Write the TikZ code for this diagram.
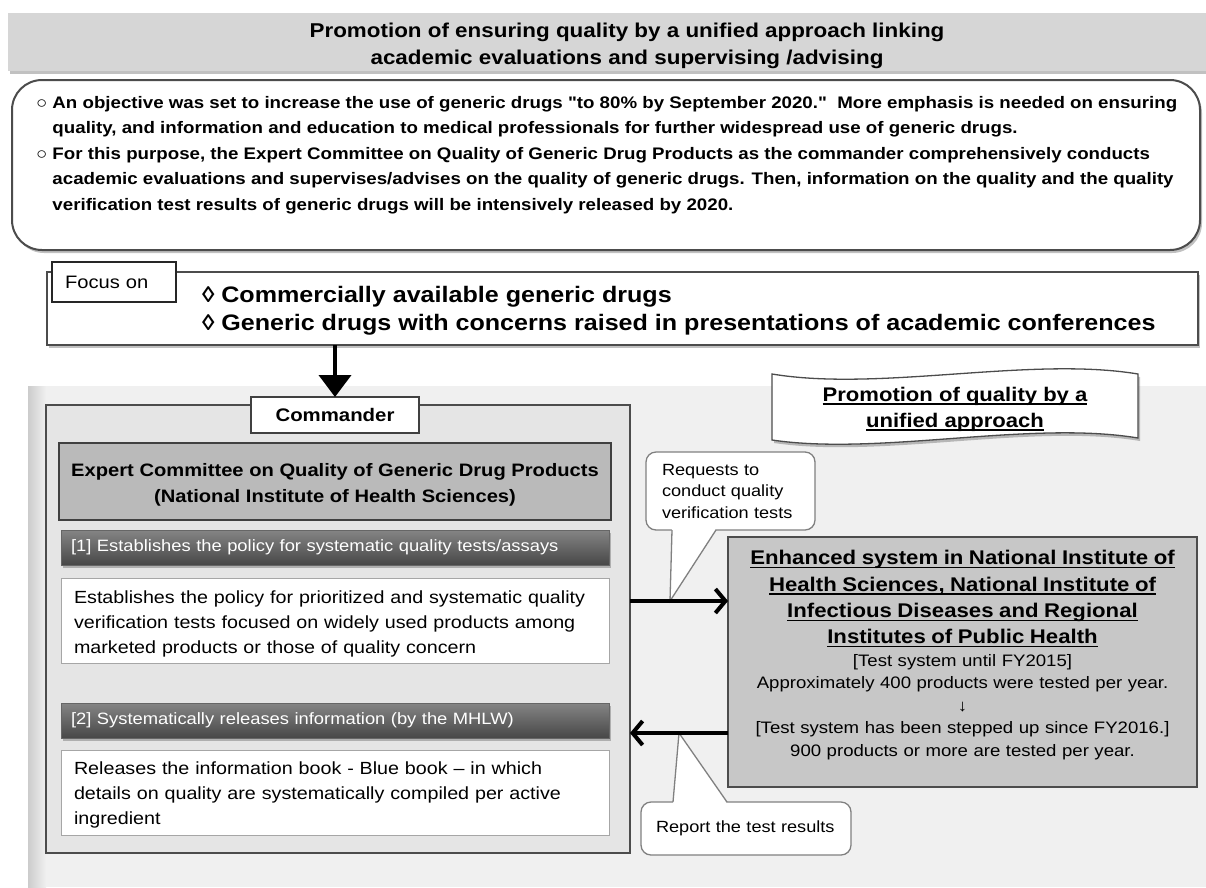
\documentclass[tikz,border=0pt]{standalone}
\usepackage{fontspec}
\setmainfont{Liberation Sans}[FakeStretch=1.12, Ligatures=TeXOff]
\usetikzlibrary{positioning, arrows.meta, shadows}

\newcommand{\fsz}[2]{\fontsize{#1}{#2}\selectfont}
\newcommand{\ulin}[1]{\leavevmode\setbox0\hbox{#1}\rlap{\rule[-3.5pt]{\wd0}{1.4pt}}\box0}

\begin{document}
\begin{tikzpicture}[x=1pt, y=-1pt,
	every node/.style={inner sep=0pt, outer sep=0pt},
	softshadow/.style={drop shadow={shadow xshift=2pt, shadow yshift=-3pt, opacity=.35, fill=black!70}},
	frame/.style={draw=black!70, line width=1.5pt, fill=white},
	bar/.style={top color=black!48, bottom color=black!72, draw=black!60, line width=.6pt, text=white, minimum width=548pt, minimum height=35pt, text width=528pt, inner xsep=10pt, align=left, font=\fsz{16.4}{20}, softshadow},
	textbox/.style={fill=white, draw=black!35, line width=1pt, minimum width=548pt, minimum height=85pt, text width=522pt, inner xsep=13pt, align=left, font=\fsz{17.6}{25}},
	callout/.style={draw=black!50, line width=1.3pt, fill=white, rounded corners=10pt, align=left, font=\fsz{16.2}{21.5}},
	callline/.style={draw=black!50, line width=1.3pt},
	fatarrow/.style={line width=4pt, -{Straight Barb[length=10pt, width=24pt]}},
	downarrow/.style={line width=4pt, -{Triangle[length=22pt, width=32pt]}}
]
	\useasboundingbox (0,0) rectangle (1206,887);
	\fill[black!6] (28,386) rectangle (1206,887);
	\shade[left color=black!20, right color=black!6] (28,386) rectangle (46,887);

	\node[fill=black!16, minimum width=1238pt, minimum height=58pt, align=center, font=\fsz{20}{27}\bfseries, softshadow] (title) at (627,42)
		{\rule{0pt}{22pt}Promotion of ensuring quality by a unified approach linking\\academic evaluations and supervising /advising};

	\node[frame, rounded corners=30pt, line width=2pt, minimum width=1188pt, minimum height=170pt, softshadow] (aim) at (606,165) {};
	\node[anchor=west, align=left, font=\fsz{16.7}{25.5}\bfseries] (aimtxt) at (36,155)
		{○ An objective was set to increase the use of generic drugs "to 80\% by September 2020."\ \ More emphasis is needed on ensuring\\
		\phantom{○ }quality, and information and education to medical professionals for further widespread use of generic drugs.\\
		○ For this purpose, the Expert Committee on Quality of Generic Drug Products as the commander comprehensively conducts\\
		\phantom{○ }academic evaluations and supervises/advises on the quality of generic drugs. Then, information on the quality and the quality\\
		\phantom{○ }verification test results of generic drugs will be intensively released by 2020.};

	\node[frame, minimum width=1151pt, minimum height=73pt, softshadow] (focus) at (622.5,308.5) {};
	\node[draw=black!85, line width=2pt, fill=white, minimum width=124pt, minimum height=40pt, text width=98pt, inner xsep=13pt, align=left, font=\fsz{18}{20}] (focustag) at (114,282) {Focus on};
	\node[anchor=west, align=left, font=\fsz{22.4}{28}\bfseries] (focustxt) at (202,311)
		{◊ Commercially available generic drugs\\◊ Generic drugs with concerns raised in presentations of academic conferences};

	\node[fill=black!10, draw=black!70, line width=1.3pt, minimum width=584pt, minimum height=448pt] (cmdpanel) at (338,629) {};
	\node[fill=white, draw=black!75, line width=1.3pt, minimum width=168pt, minimum height=36pt, font=\fsz{18.2}{20}\bfseries] (cmdr) at (335,415) {Commander};
	\node[fill=black!27, draw=black!75, line width=1.3pt, minimum width=552pt, minimum height=77pt, align=center, font=\fsz{18}{26}\bfseries, below=10pt of cmdr] (expert)
		{\rule{0pt}{19pt}Expert Committee on Quality of Generic Drug Products\\(National Institute of Health Sciences)};
	\node[bar, below=10pt of expert] (bar1) {[1] Establishes the policy for systematic quality tests/assays};
	\node[textbox, below=13pt of bar1] (box1)
		{\rule{0pt}{19pt}Establishes the policy for prioritized and systematic quality\\verification tests focused on widely used products among\\marketed products or those of quality concern};
	\node[bar, below=40pt of box1] (bar2) {[2] Systematically releases information (by the MHLW)};
	\node[textbox, below=12pt of bar2] (box2)
		{\rule{0pt}{17pt}Releases the information book - Blue book – in which\\details on quality are systematically compiled per active\\ingredient};

	\filldraw[fill=white, draw=black!70, line width=1.3pt, softshadow]
		(772,374) .. controls (880,392) and (1030,356) .. (1138,374) -- (1138,438)
		.. controls (1030,420) and (880,456) .. (772,440) -- cycle;
	\node[align=center, font=\fsz{19.7}{26}\bfseries] (promo) at (955,409) {\ulin{Promotion of quality by a}\\\ulin{unified approach}};

	\node[fill=black!22, draw=black!70, line width=1.3pt, minimum width=469pt, minimum height=250pt, text width=449pt, align=center, font=\fsz{16.6}{22.5}] (enh) at (962.5,662)
		{{\fsz{19.8}{26.3}\bfseries \ulin{Enhanced system in National Institute of}\\\ulin{Health Sciences, National Institute of}\\\ulin{Infectious Diseases and Regional}\\\ulin{Institutes of Public Health}\par}
		{\fsz{16.6}{22.5}[Test system until FY2015]\\Approximately 400 products were tested per year.\\↓\\{}[Test system has been stepped up since FY2016.]\\900 products or more are tested per year.\rule[-17pt]{0pt}{0pt}\par}};

	\node[callout, minimum width=169pt, minimum height=78pt, text width=137pt, inner xsep=16pt] (req) at (730.5,491) {Requests to\\conduct quality\\verification tests};
	\node[callout, minimum width=210pt, minimum height=53pt, text width=180pt, inner xsep=15pt] (rep) at (746,828.5) {Report the test results};
	\coordinate (reqtip) at (670,601);
	\coordinate (reptip) at (679,733);

	\fill[white] ([xshift=-58.5pt, yshift=1.5pt]req.south) -- (reqtip) -- ([xshift=-14.5pt, yshift=1.5pt]req.south) -- cycle;
	\draw[callline] ([xshift=-58.5pt]req.south) -- (reqtip) -- ([xshift=-14.5pt]req.south);
	\fill[white] ([xshift=-73pt, yshift=-1.5pt]rep.north) -- (reptip) -- ([xshift=-19pt, yshift=-1.5pt]rep.north) -- cycle;
	\draw[callline] ([xshift=-73pt]rep.north) -- (reptip) -- ([xshift=-19pt]rep.north);

	\draw[downarrow] (focus.south -| cmdr.north) -- (cmdr.north);
	\draw[fatarrow] (cmdpanel.east |- reqtip) -- (enh.west |- reqtip);
	\draw[fatarrow] (enh.west |- reptip) -- (cmdpanel.east |- reptip);
\end{tikzpicture}
\end{document}
